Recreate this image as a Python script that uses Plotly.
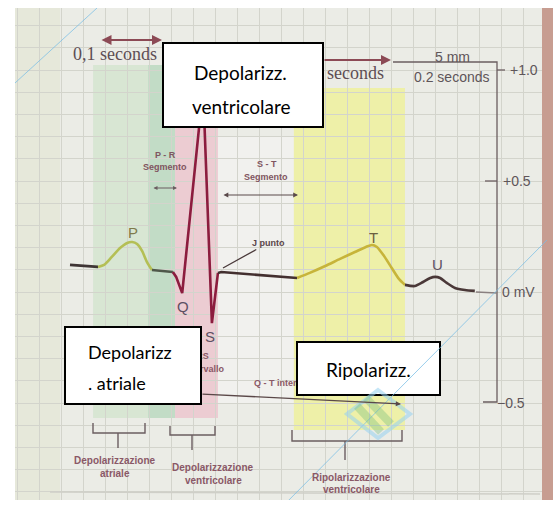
import plotly.graph_objects as go

# ---------------- data (time in s, voltage in mV) ----------------
base_t = [0.100, 0.151]
base_mv = [0.122, 0.113]

p_t = [0.151, 0.162, 0.176, 0.191, 0.204, 0.213, 0.222, 0.231, 0.240, 0.249]
p_mv = [0.113, 0.122, 0.158, 0.198, 0.221, 0.225, 0.216, 0.185, 0.135, 0.099]

pr_t = [0.249, 0.287]
pr_mv = [0.099, 0.090]

qrs_t = [0.287, 0.293, 0.304, 0.342, 0.358, 0.369]
qrs_mv = [0.090, 0.068, -0.005, 0.919, -0.140, 0.086]

st_t = [0.369, 0.375, 0.513]
st_mv = [0.086, 0.090, 0.063]

tw_t = [0.513, 0.536, 0.564, 0.591, 0.618, 0.638, 0.649, 0.658, 0.671, 0.685, 0.698, 0.709]
tw_mv = [0.063, 0.086, 0.117, 0.149, 0.180, 0.203, 0.212, 0.203, 0.162, 0.108, 0.059, 0.032]

u_t = [0.709, 0.727, 0.742, 0.755, 0.764, 0.773, 0.785, 0.800, 0.818, 0.836]
u_mv = [0.032, 0.027, 0.045, 0.063, 0.068, 0.063, 0.041, 0.018, 0.009, 0.005]

# shaded phases (start s, end s, top mV, bottom mV)
region_t0 = [0.142, 0.242, 0.291, 0.369, 0.507]
region_t1 = [0.242, 0.291, 0.369, 0.507, 0.709]
region_top = [1.023, 1.023, 1.023, 0.700, 0.919]
region_bot = [-0.568, -0.568, -0.568, -0.500, -0.622]

mv_ticks = [1.0, 0.5, 0.0, -0.5]
mv_labels = ["+1.0", "+0.5", "0 mV", "\u22120.5"]

# ---------------- layout helpers (pixel -> axis units) ----------------
W, H = 553, 509
L, R, T, B = 15, 0, 8, 9
SX, SY = 550.0, 222.0
X0, Y0 = 15.0, 292.0


def tx(px):
    return (px - X0) / SX


def vy(py):
    return (Y0 - py) / SY


XR = [tx(L), tx(W - R)]
YR = [vy(H - B), vy(T)]

fig = go.Figure()

seg_styles = [
    (base_t, base_mv, "#3f3535", "linear"),
    (p_t, p_mv, "#b4bf55", "spline"),
    (pr_t, pr_mv, "#4f584a", "linear"),
    (qrs_t, qrs_mv, "#8c1c3e", "linear"),
    (st_t, st_mv, "#432f2f", "linear"),
    (tw_t, tw_mv, "#c7b43a", "spline"),
    (u_t, u_mv, "#4a3838", "spline"),
]
for xs, ys, col, shp in seg_styles:
    fig.add_trace(go.Scatter(x=xs, y=ys, mode="lines",
                             line=dict(color=col, width=2.6, shape=shp, smoothing=0.7),
                             hoverinfo="skip", showlegend=False))

# text fragments partially hidden behind the white boxes (traces sit below 'above' shapes)
frag_font = dict(family="Liberation Sans", size=9, color="#8a5866")
fig.add_trace(go.Scatter(
    x=[tx(199), tx(204), tx(254)],
    y=[vy(357), vy(370), vy(384)],
    mode="text",
    text=["<b>QRS</b>", "<b>intervallo</b>", "<b>Q - T intervallo</b>"],
    textposition=["middle center", "middle center", "middle right"],
    textfont=frag_font, hoverinfo="skip", showlegend=False))

shapes = []
# pale left side of the photo
shapes.append(dict(type="rect", xref="x", yref="y", x0=tx(15), x1=tx(60), y0=YR[0], y1=YR[1],
                   fillcolor="#e6e8da", line=dict(width=0), layer="below"))
region_colors = ["#d8e6d3", "#c2dcc6", "#ecccd2", "#f1f1ee", "#eef0a8"]
for a, b, top, bot, c in zip(region_t0, region_t1, region_top, region_bot, region_colors):
    shapes.append(dict(type="rect", xref="x", yref="y", x0=a, x1=b, y0=bot, y1=top,
                       fillcolor=c, line=dict(width=0), layer="below"))


def path(points):
    return "M" + " L".join(f"{tx(px):.5f},{vy(py):.5f}" for px, py in points)


ink = "#6b5d60"
# right-hand scale bracket and ticks
shapes.append(dict(type="path", xref="x", yref="y",
                   path=path([(393, 62), (497, 62), (497, 402), (483, 402)]),
                   line=dict(color=ink, width=1.3)))
shapes.append(dict(type="path", xref="x", yref="y", path=path([(497, 70), (505, 70)]),
                   line=dict(color=ink, width=1.3)))
shapes.append(dict(type="path", xref="x", yref="y", path=path([(485, 181), (497, 181)]),
                   line=dict(color=ink, width=1.3)))
shapes.append(dict(type="path", xref="x", yref="y", path=path([(476, 292), (497, 293)]),
                   line=dict(color="#8a8080", width=1.3)))
# bottom brackets
for (xa, xb, ytop, ybar, xs, ystem) in [(93, 145, 423, 433, 118, 448),
                                        (170, 215, 426, 435, 192, 450),
                                        (292, 402, 430, 441, 345, 460)]:
    shapes.append(dict(type="path", xref="x", yref="y",
                       path=path([(xa, ytop), (xa, ybar), (xb, ybar), (xb, ytop)]),
                       line=dict(color=ink, width=1.4)))
    shapes.append(dict(type="path", xref="x", yref="y", path=path([(xs, ybar), (xs, ystem)]),
                       line=dict(color=ink, width=1.4)))
# faint bottom frame line
shapes.append(dict(type="path", xref="x", yref="y", path=path([(50, 492), (540, 494)]),
                   line=dict(color="#cfcfc8", width=1.5)))
# right brown edge of the book
shapes.append(dict(type="rect", xref="x", yref="y", x0=tx(542), x1=tx(553), y0=YR[0], y1=YR[1],
                   fillcolor="#c79d91", line=dict(width=0), layer="above"))
# white label boxes
for (xa, ya, xb, yb) in [(163, 43, 323, 127), (65, 327, 201, 404), (297, 342, 440, 395)]:
    shapes.append(dict(type="rect", xref="x", yref="y", x0=tx(xa), x1=tx(xb), y0=vy(yb), y1=vy(ya),
                       fillcolor="white", line=dict(color="black", width=2), layer="above"))
# watermark
wm = "rgba(120,190,230,0.75)"
shapes.append(dict(type="path", xref="x", yref="y", path=path([(15, 83), (97, 8)]),
                   line=dict(color=wm, width=1)))
shapes.append(dict(type="path", xref="x", yref="y", path=path([(280, 509), (547, 240)]),
                   line=dict(color=wm, width=1)))
shapes.append(dict(type="path", xref="x", yref="y",
                   path=path([(378, 390), (410, 414), (378, 438), (347, 414)]) + " Z",
                   line=dict(color="rgba(150,210,240,0.55)", width=4)))
shapes.append(dict(type="path", xref="x", yref="y", path=path([(366, 398), (391, 424)]),
                   line=dict(color="rgba(110,185,120,0.35)", width=8)))
shapes.append(dict(type="path", xref="x", yref="y", path=path([(357, 406), (381, 432)]),
                   line=dict(color="rgba(110,185,120,0.35)", width=8)))

ann = []


def text(px, py, s, size, color, family="Liberation Sans", xanchor="center"):
    ann.append(dict(x=tx(px), y=vy(py), xref="x", yref="y", text=s, showarrow=False,
                    xanchor=xanchor, yanchor="middle",
                    font=dict(family=family, size=size, color=color)))


def arrow(p_from, p_to, color, width, both=False, head=2, size=1.0):
    ann.append(dict(x=tx(p_to[0]), y=vy(p_to[1]), ax=tx(p_from[0]), ay=vy(p_from[1]),
                    xref="x", yref="y", axref="x", ayref="y", text="", showarrow=True,
                    arrowhead=head, startarrowhead=head, arrowsize=size, startarrowsize=size,
                    arrowwidth=width, arrowcolor=color, standoff=0, startstandoff=0,
                    arrowside="end+start" if both else "end"))


serif_col = "#5e4e54"
text(115, 54, "0,1 seconds", 18, serif_col, family="Liberation Serif")
text(355, 73, "seconds", 18, serif_col, family="Liberation Serif")
arrow((100, 40), (162, 40), "#8c4a55", 2, both=True)
arrow((323, 60), (391, 60), "#8c4a55", 2)
text(452, 57, "5 mm", 14, "#5e5559")
text(452, 77, "0.2 seconds", 14, "#5e5559")

lab_pos = [(524, 71), (517, 181), (518, 293), (511, 403)]
for (px, py), v, s in zip(lab_pos, mv_ticks, mv_labels):
    ann.append(dict(x=tx(px), y=v, xref="x", yref="y", text=s, showarrow=False,
                    font=dict(family="Liberation Sans", size=14, color="#5e5559")))

small = "#7f5560"
text(165, 155, "<b>P - R</b>", 9, small)
text(165, 167, "<b>Segmento</b>", 9, small)
arrow((152, 188), (177, 188), "#6b5d60", 1, both=True, head=2, size=0.8)
text(267, 164, "<b>S - T</b>", 9, small)
text(266, 177, "<b>Segmento</b>", 9, small)
arrow((222, 195), (298, 195), "#5a4a4a", 1.2, both=True, head=2, size=0.8)
ann.append(dict(x=tx(223), y=vy(268), ax=tx(268), ay=vy(243), xref="x", yref="y",
                axref="x", ayref="y", text="<b>J punto</b>", showarrow=True, arrowhead=0,
                arrowwidth=1.3, arrowcolor="#4a3a3a", standoff=0,
                font=dict(family="Liberation Sans", size=9, color="#5a4548")))
arrow((201, 394), (401, 404), "#5a4848", 1.3, head=2, size=0.8)

wave_col = "#5d5062"
text(133, 232, "P", 15, "#7f7a4a")
text(183, 306, "Q", 15, wave_col)
text(210, 336, "S", 15, wave_col)
text(373, 237, "T", 15, "#6b6040")
text(437, 264, "U", 15, wave_col)

bot = "#8a5866"
text(115, 460, "<b>Depolarizzazione</b>", 10, bot)
text(115, 473, "<b>atriale</b>", 10, bot)
text(213, 467, "<b>Depolarizzazione</b>", 10, bot)
text(213, 480, "<b>ventricolare</b>", 10, bot)
text(351, 477, "<b>Ripolarizzazione</b>", 10, bot)
text(351, 489, "<b>ventricolare</b>", 10, bot)

box_font = "Lato"
text(240, 72, "Depolarizz.", 19, "black", family=box_font)
text(241, 106, "ventricolare", 19, "black", family=box_font)
text(86, 352, "Depolarizz", 18, "black", family=box_font, xanchor="left")
text(86, 383, ". atriale", 18, "black", family=box_font, xanchor="left")
text(368, 369, "Ripolarizz.", 19, "black", family=box_font)

fig.update_layout(
    width=W, height=H,
    margin=dict(l=L, r=R, t=T, b=B, pad=0),
    paper_bgcolor="white", plot_bgcolor="#ebece6",
    xaxis=dict(range=XR, showgrid=True, gridcolor="#d3d4cc", gridwidth=1, dtick=0.04,
               tick0=tx(17), zeroline=False, showticklabels=False, ticks="", showline=False),
    yaxis=dict(range=YR, showgrid=True, gridcolor="#d3d4cc", gridwidth=1, dtick=0.1,
               tick0=0, zeroline=False, showticklabels=False, ticks="", showline=False),
    shapes=shapes, annotations=ann, showlegend=False,
)

fig.write_html("out.html", config={"displayModeBar": False},
               post_script="document.body.style.margin='0';")
